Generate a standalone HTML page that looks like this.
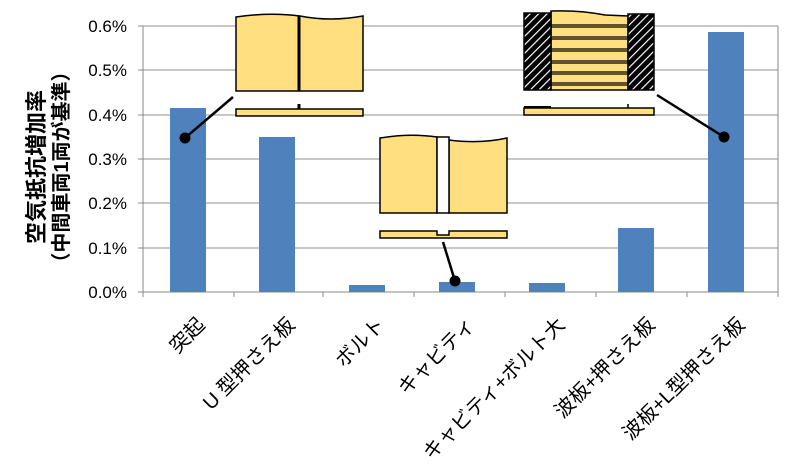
<!DOCTYPE html>
<html><head><meta charset="utf-8"><style>
body{margin:0;background:#fff}
svg{display:block}
text{font-family:"Liberation Sans","Noto Sans CJK JP",sans-serif}
</style></head><body>
<svg width="790" height="475" viewBox="0 0 790 475" xmlns="http://www.w3.org/2000/svg">
<defs>
<pattern id="h" width="6" height="6" patternUnits="userSpaceOnUse" patternTransform="rotate(45)">
<rect width="6" height="6" fill="#000"/><rect x="0" y="0" width="1.2" height="6" fill="#fff"/>
</pattern>
</defs>
<g stroke="#a6a6a6" stroke-width="1.3">
<line x1="143" y1="26" x2="778" y2="26"/>
<line x1="143" y1="70" x2="778" y2="70"/>
<line x1="143" y1="115" x2="778" y2="115"/>
<line x1="143" y1="159" x2="778" y2="159"/>
<line x1="143" y1="203" x2="778" y2="203"/>
<line x1="143" y1="248" x2="778" y2="248"/>
</g>
<g stroke="#888" stroke-width="1">
<line x1="143" y1="26" x2="143" y2="292"/>
<line x1="778" y1="26" x2="778" y2="297"/>
<line x1="143" y1="292" x2="778" y2="292"/>
<line x1="138" y1="26" x2="143" y2="26"/><line x1="138" y1="70" x2="143" y2="70"/>
<line x1="138" y1="115" x2="143" y2="115"/><line x1="138" y1="159" x2="143" y2="159"/>
<line x1="138" y1="203" x2="143" y2="203"/><line x1="138" y1="248" x2="143" y2="248"/>
<line x1="138" y1="292" x2="143" y2="292"/>
<line x1="143" y1="292" x2="143" y2="297"/><line x1="234" y1="292" x2="234" y2="297"/>
<line x1="323" y1="292" x2="323" y2="297"/><line x1="414" y1="292" x2="414" y2="297"/>
<line x1="505" y1="292" x2="505" y2="297"/><line x1="596" y1="292" x2="596" y2="297"/>
<line x1="687" y1="292" x2="687" y2="297"/>
</g>
<g font-size="17" fill="#000" text-anchor="end">
<text x="127" y="32">0.6%</text><text x="127" y="76">0.5%</text>
<text x="127" y="121">0.4%</text><text x="127" y="165">0.3%</text>
<text x="127" y="209">0.2%</text><text x="127" y="254">0.1%</text>
<text x="127" y="298">0.0%</text>
</g>
<g fill="#4f81bd">
<rect x="170" y="108" width="36" height="184"/>
<rect x="259" y="137" width="36" height="155"/>
<rect x="349" y="285" width="36" height="7"/>
<rect x="439" y="282" width="36" height="10"/>
<rect x="529" y="283" width="36" height="9"/>
<rect x="618" y="228" width="36" height="64"/>
<rect x="708" y="32" width="36" height="260"/>
</g>
<g font-size="20" fill="#000" text-anchor="end">
<text transform="translate(206,326) rotate(-45)">突起</text>
<text transform="translate(296,326) rotate(-45)">U 型押さえ板</text>
<text transform="translate(386,326) rotate(-45)">ボルト</text>
<text transform="translate(476,326) rotate(-45)">キャビティ</text>
<text transform="translate(566,326) rotate(-45)">キャビティ+ボルト大</text>
<text transform="translate(656,326) rotate(-45)">波板+押さえ板</text>
<text transform="translate(746,326) rotate(-45)">波板+L型押さえ板</text>
</g>
<g font-weight="bold" fill="#000" text-anchor="middle">
<text font-size="22" transform="translate(44,167) rotate(-90)">空気抵抗増加率</text>
<text font-size="20" transform="translate(68,167) rotate(-90)">（中間車両1両が基準）</text>
</g>
<!-- inset 1 -->
<g stroke="#000" stroke-width="1.5">
<path d="M236,17 Q270,12 300,16 Q330,22 363,16 L363,91 L236,91 Z" fill="#ffdf80"/>
<line x1="299" y1="16" x2="299" y2="91" stroke-width="3"/>
<rect x="236" y="109" width="127" height="7" fill="#ffdf80"/>
<line x1="299" y1="104" x2="299" y2="109" stroke-width="3"/>
<line x1="233" y1="97" x2="185" y2="138" stroke-width="2.5"/>
</g>
<circle cx="185" cy="138" r="5.5" fill="#000"/>
<!-- inset 2 -->
<g stroke="#000" stroke-width="1.5">
<path d="M380,138 Q410,133 437,137 L437,213 L380,213 Z" fill="#ffdf80"/>
<path d="M449,140 Q480,144 507,138 L507,213 L449,213 Z" fill="#ffdf80"/>
<rect x="437" y="137" width="12" height="76" fill="#fff"/>
<path d="M380,231 L437,231 L437,235 L449,235 L449,231 L507,231 L507,238 L380,238 Z" fill="#ffdf80"/>
<line x1="443" y1="242" x2="455" y2="281" stroke-width="2.5"/>
</g>
<circle cx="455" cy="281" r="5.5" fill="#000"/>
<!-- inset 3 -->
<g stroke="#000" stroke-width="1.5">
<path d="M551,11 Q580,10 605,15 L628,16 L628,90 L551,90 Z" fill="#ffdf80"/>
<rect x="524" y="13" width="27" height="77" fill="url(#h)"/>
<rect x="628" y="14" width="26" height="76" fill="url(#h)"/>
<g stroke-width="1.2">
<line x1="551" y1="25" x2="628" y2="25"/><line x1="551" y1="27" x2="628" y2="27"/>
<line x1="551" y1="37" x2="628" y2="37"/><line x1="551" y1="39" x2="628" y2="39"/>
<line x1="551" y1="49" x2="628" y2="49"/><line x1="551" y1="51" x2="628" y2="51"/>
<line x1="551" y1="61" x2="628" y2="61"/><line x1="551" y1="63" x2="628" y2="63"/>
<line x1="551" y1="72" x2="628" y2="72"/><line x1="551" y1="74" x2="628" y2="74"/>
<line x1="551" y1="83" x2="628" y2="83"/><line x1="551" y1="85" x2="628" y2="85"/>
</g>
<rect x="524" y="108" width="130" height="7" fill="#ffdf80"/>
<line x1="524" y1="107" x2="551" y2="107" stroke-width="2"/>
<line x1="628" y1="104" x2="628" y2="108" stroke-width="1.5"/>
<line x1="657" y1="95" x2="724" y2="137" stroke-width="2.5"/>
</g>
<circle cx="724" cy="137" r="5.5" fill="#000"/>
</svg>
</body></html>
